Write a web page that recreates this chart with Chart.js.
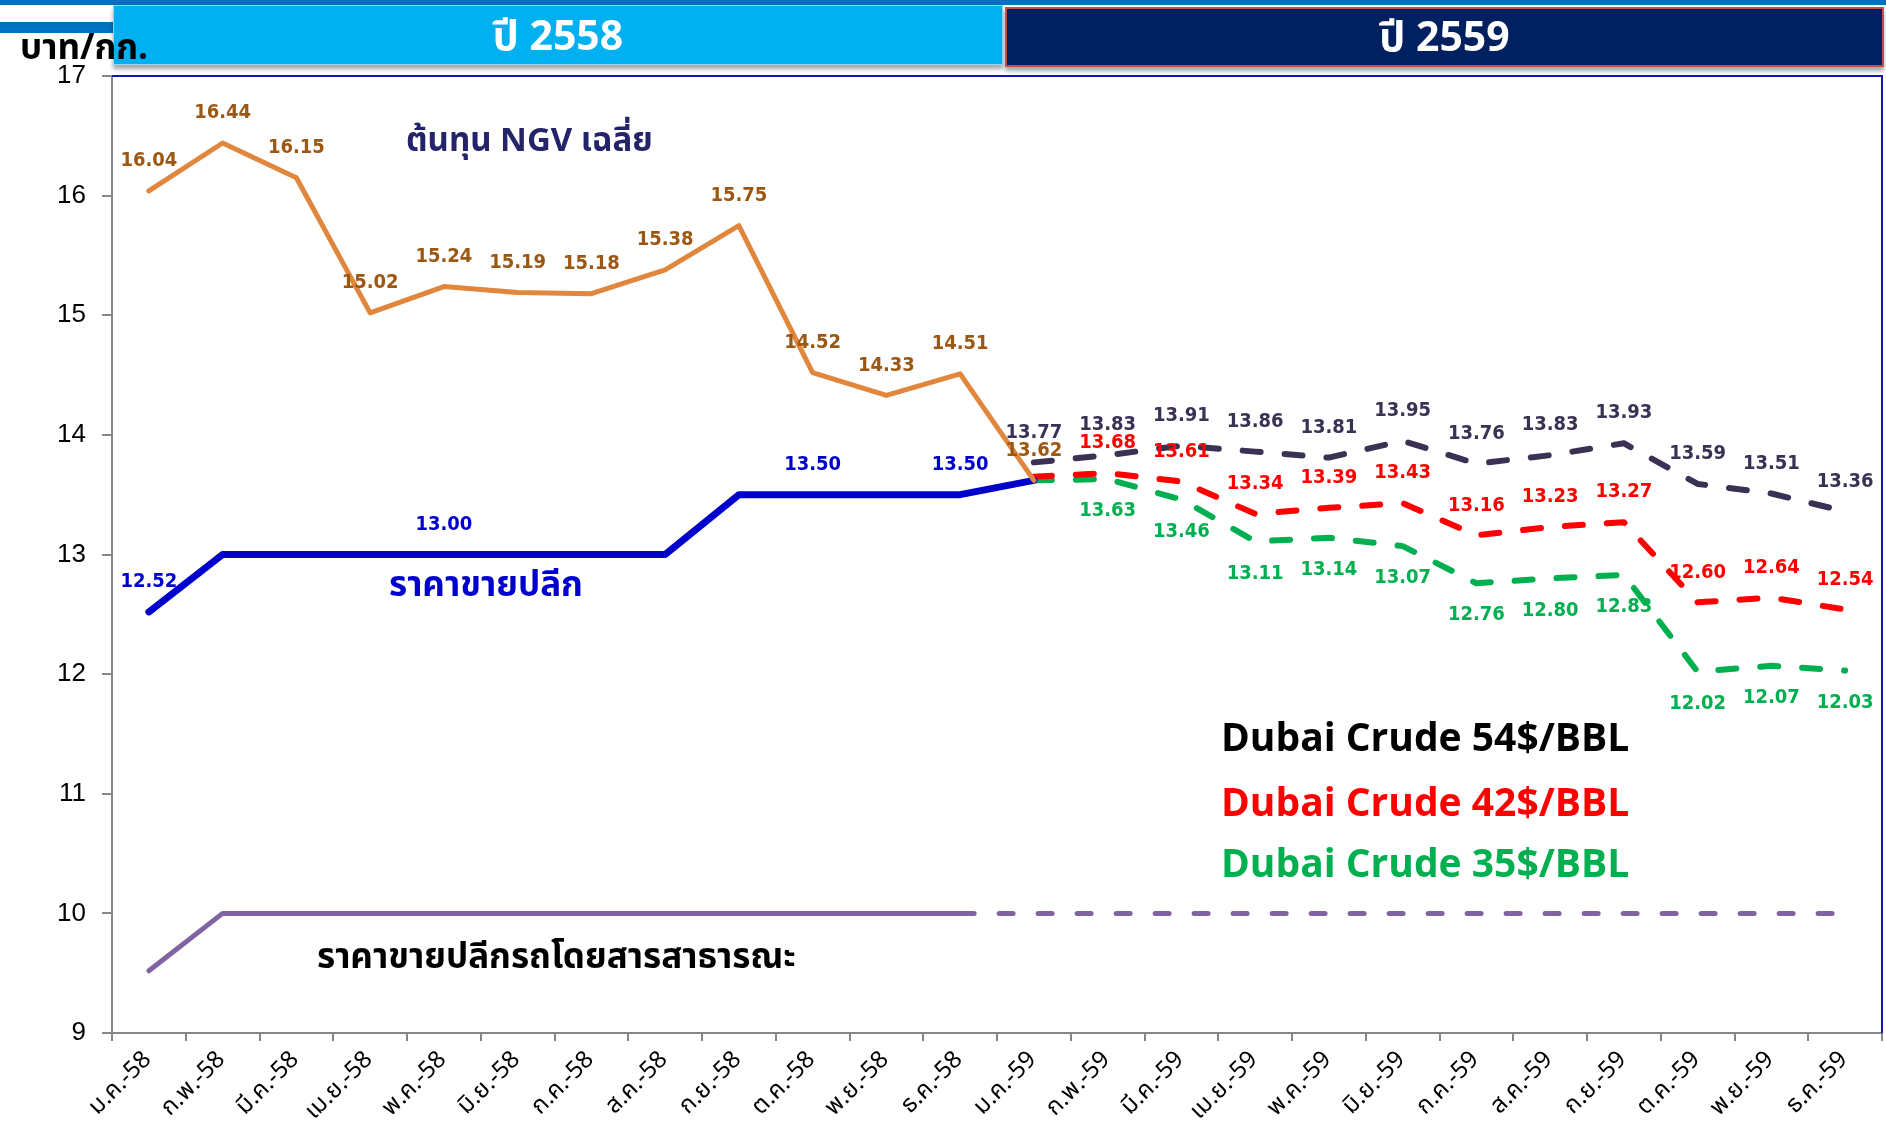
<!DOCTYPE html>
<html>
<head>
<meta charset="utf-8">
<script src="https://cdn.jsdelivr.net/npm/chart.js@4.4.1/dist/chart.umd.min.js"></script>
<style>
html, body { margin: 0; padding: 0; background: #fff; overflow: hidden; }
#wrap { position: relative; width: 1886px; height: 1124px; overflow: hidden; }
#myChart { position: absolute; left: 0; top: 0; }
.abs { position: absolute; white-space: nowrap; font-weight: bold; line-height: 1;
       font-family: Tahoma, "Noto Sans Thai", "DejaVu Sans Condensed", "DejaVu Sans", sans-serif; }
.box { position: absolute; box-sizing: border-box; color: #fff; text-align: center;
       box-shadow: 0 4px 4px rgba(0,0,0,0.35); }
</style>
</head>
<body>
<div id="wrap">
  <canvas id="myChart" width="1886" height="1124"></canvas>
  <div class="abs" style="left:0;top:0;width:1886px;height:5px;background:#0070c0"></div>
  <div class="abs" style="left:0;top:22px;width:113px;height:11px;background:#0070c0"></div>
  <div class="box abs" style="left:113px;top:5px;width:890px;height:60px;background:#00b0f0;border:1px solid #8fd6f7;font-size:41px;line-height:62px">ปี 2558</div>
  <div class="box abs" style="left:1005px;top:7px;width:879px;height:60px;background:#002060;border:2px solid #c0504d;font-size:41px;line-height:58px">ปี 2559</div>
  <div class="abs" style="left:20px;top:31px;font-size:35px;color:#000">บาท/กก.</div>

  <div class="abs" style="left:406px;top:125px;font-size:33px;color:#24246b">ต้นทุน NGV เฉลี่ย</div>
  <div class="abs" style="left:389px;top:568px;font-size:35px;color:#0000cc">ราคาขายปลีก</div>
  <div class="abs" style="left:317px;top:940px;font-size:35px;color:#000">ราคาขายปลีกรถโดยสารสาธารณะ</div>
  <div class="abs" style="left:1221px;top:720px;font-size:39px;color:#000">Dubai Crude 54$/BBL</div>
  <div class="abs" style="left:1221px;top:785px;font-size:39px;color:#ff0000">Dubai Crude 42$/BBL</div>
  <div class="abs" style="left:1221px;top:846px;font-size:39px;color:#00b050">Dubai Crude 35$/BBL</div>
</div>
<script>
const months = ['ม.ค.-58', 'ก.พ.-58', 'มี.ค.-58', 'เม.ย.-58', 'พ.ค.-58', 'มิ.ย.-58',
                'ก.ค.-58', 'ส.ค.-58', 'ก.ย.-58', 'ต.ค.-58', 'พ.ย.-58', 'ธ.ค.-58',
                'ม.ค.-59', 'ก.พ.-59', 'มี.ค.-59', 'เม.ย.-59', 'พ.ค.-59', 'มิ.ย.-59',
                'ก.ค.-59', 'ส.ค.-59', 'ก.ย.-59', 'ต.ค.-59', 'พ.ย.-59', 'ธ.ค.-59'];

// ม.ค.-58 .. ม.ค.-59
const ngvCost = [16.04, 16.44, 16.15, 15.02, 15.24, 15.19, 15.18, 15.38, 15.75, 14.52, 14.33, 14.51, 13.62];
const retailPrice = [12.52, 13.00, 13.00, 13.00, 13.00, 13.00, 13.00, 13.00, 13.50, 13.50, 13.50, 13.50, 13.62];
const retailLabelAt = [0, 4, 9, 11];

// ม.ค.-58 .. ธ.ค.-59
const busPrice = [9.52, 10, 10, 10, 10, 10, 10, 10, 10, 10, 10, 10,
                  10, 10, 10, 10, 10, 10, 10, 10, 10, 10, 10, 10];

// ม.ค.-59 .. ธ.ค.-59
const dubai54 = [13.77, 13.83, 13.91, 13.86, 13.81, 13.95, 13.76, 13.83, 13.93, 13.59, 13.51, 13.36];
const dubai42 = [13.65, 13.68, 13.61, 13.34, 13.39, 13.43, 13.16, 13.23, 13.27, 12.60, 12.64, 12.54];
const dubai35 = [13.62, 13.63, 13.46, 13.11, 13.14, 13.07, 12.76, 12.80, 12.83, 12.02, 12.07, 12.03];

const yTicks = [9, 10, 11, 12, 13, 14, 15, 16, 17];

function fill(arr, start) {
    const out = new Array(months.length).fill(null);
    arr.forEach((v, i) => { out[start + i] = v; });
    return out;
}
function range(a, b) { const r = []; for (let i = a; i <= b; i++) r.push(i); return r; }

const labelFont = 'bold 20px Tahoma, "DejaVu Sans Condensed", "DejaVu Sans", sans-serif';

// ตัวเลขกำกับจุด
const valueLabels = {
    id: 'valueLabels',
    afterDatasetsDraw(chart) {
        const c = chart.ctx;
        c.save();
        c.font = labelFont;
        c.textAlign = 'center';
        c.textBaseline = 'middle';
        chart.data.datasets.forEach((ds, di) => {
            if (!ds.labelAt) return;
            const meta = chart.getDatasetMeta(di);
            c.fillStyle = ds.labelColor;
            ds.labelAt.forEach(i => {
                const pt = meta.data[i];
                c.fillText(ds.data[i].toFixed(2), pt.x, pt.y + ds.labelDy);
            });
        });
        c.restore();
    }
};

// กรอบบน/ขวาสีน้ำเงิน
const frame = {
    id: 'frame',
    beforeDatasetsDraw(chart) {
        const a = chart.chartArea, c = chart.ctx;
        c.save();
        c.strokeStyle = '#1414b4';
        c.lineWidth = 2;
        c.beginPath();
        c.moveTo(a.left, a.top);
        c.lineTo(a.right, a.top);
        c.lineTo(a.right, a.bottom);
        c.stroke();
        c.restore();
    }
};

const ctx = document.getElementById('myChart').getContext('2d');
const myChart = new Chart(ctx, {
    type: 'line',
    data: {
        labels: months,
        datasets: [{
            label: 'ต้นทุน NGV เฉลี่ย',
            data: fill(ngvCost, 0),
            borderColor: '#e0863d',
            borderWidth: 5,
            labelAt: range(0, 12), labelColor: '#9c5712', labelDy: -30
        }, {
            label: 'ราคาขายปลีก',
            data: fill(retailPrice, 0),
            borderColor: '#0000cc',
            borderWidth: 7,
            labelAt: retailLabelAt, labelColor: '#0000cc', labelDy: -30
        }, {
            label: 'Dubai Crude 54$/BBL',
            data: fill(dubai54, 12),
            borderColor: '#3a3154',
            borderWidth: 6,
            borderDash: [18, 24],
            labelAt: range(12, 23), labelColor: '#3a3154', labelDy: -30
        }, {
            label: 'Dubai Crude 42$/BBL',
            data: fill(dubai42, 12),
            borderColor: '#ff0000',
            borderWidth: 6,
            borderDash: [18, 24],
            labelAt: range(13, 23), labelColor: '#ff0000', labelDy: -30
        }, {
            label: 'Dubai Crude 35$/BBL',
            data: fill(dubai35, 12),
            borderColor: '#00b050',
            borderWidth: 6,
            borderDash: [18, 24],
            labelAt: range(13, 23), labelColor: '#00b050', labelDy: 32
        }, {
            label: 'ราคาขายปลีกรถโดยสารสาธารณะ',
            data: busPrice,
            borderColor: '#8064a2',
            borderWidth: 5,
            segment: { borderDash: s => s.p0DataIndex >= 11 ? [14, 25] : undefined }
        }]
    },
    plugins: [frame, valueLabels],
    options: {
        responsive: false,
        animation: false,
        layout: { padding: { top: 76, right: 4, left: 0, bottom: 0 } },
        elements: {
            point: { radius: 0, hoverRadius: 0 },
            line: { tension: 0, borderCapStyle: 'round', borderJoinStyle: 'round', fill: false }
        },
        plugins: { legend: { display: false }, tooltip: { enabled: false } },
        scales: {
            x: {
                offset: true,
                grid: { offset: true, drawOnChartArea: false, drawTicks: true, tickLength: 8, color: '#868686', lineWidth: 2 },
                border: { color: '#868686', width: 2 },
                ticks: {
                    autoSkip: false, maxRotation: 45, minRotation: 45, padding: 6,
                    color: '#000',
                    font: { size: 24, family: 'Tahoma, "Noto Sans Thai", "DejaVu Sans", sans-serif' }
                },
                afterFit: s => { s.height = 91; }
            },
            y: {
                min: 9, max: 17,
                afterBuildTicks: s => { s.ticks = yTicks.map(v => ({ value: v })); },
                grid: { drawOnChartArea: false, drawTicks: true, tickLength: 10, color: '#868686', lineWidth: 2 },
                border: { color: '#868686', width: 2 },
                ticks: {
                    padding: 16, color: '#000',
                    font: { size: 26, family: '"Liberation Sans", Arial, sans-serif' }
                },
                afterFit: s => { s.width = 112; }
            }
        }
    }
});
</script>
</body>
</html>
